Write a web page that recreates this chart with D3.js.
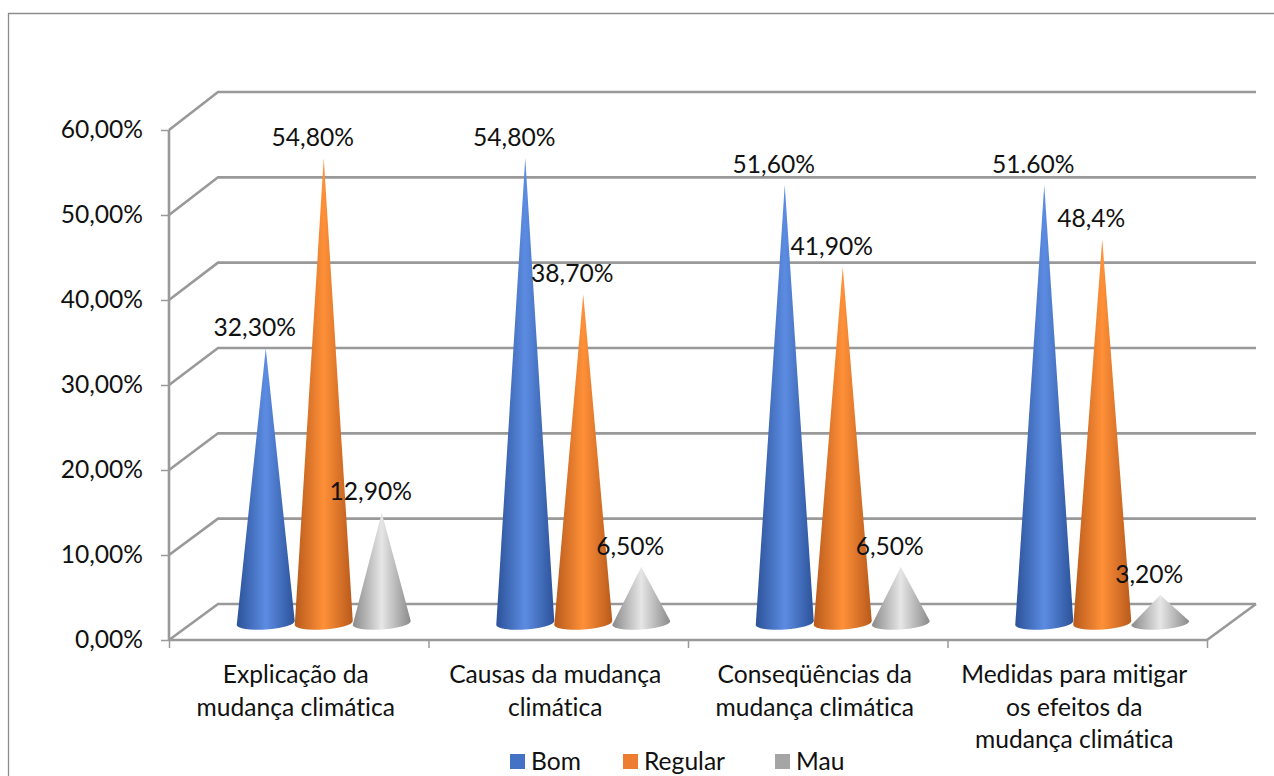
<!DOCTYPE html>
<html><head><meta charset="utf-8">
<script src="https://cdn.jsdelivr.net/npm/d3@7"></script>
<style>html,body{margin:0;padding:0;background:#fff;overflow:hidden}svg{display:block}text{font-family:Lato,"Open Sans",sans-serif;fill:#111;font-variant-ligatures:none}</style>
</head><body><script>
const categories=[["Explicação da","mudança climática"],["Causas da mudança","climática"],["Conseqüências da","mudança climática"],["Medidas para mitigar","os efeitos da","mudança climática"]];
const seriesNames=["Bom","Regular","Mau"];
const bom=[32.3,54.8,51.6,51.6];
const regular=[54.8,38.7,41.9,45.2];
const mau=[12.9,6.5,6.5,3.2];
const bomLabels=["32,30%","54,80%","51,60%","51.60%"];
const regularLabels=["54,80%","38,70%","41,90%","48,4%"];
const mauLabels=["12,90%","6,50%","6,50%","3,20%"];
const yTicks=[0,10,20,30,40,50,60];
const colors=["#4472c4","#ed7d31","#a5a5a5"];
const grads=[["#2c5299","#5c8ce2"],["#b85a1c","#ff9038"],["#8a8a8a","#e6e6e6"]];

const W=1274,H=776,dx=49,grid="#999",fs=24.6;
const svg=d3.select("body").append("svg").attr("width",W).attr("height",H);
svg.append("path").attr("d",`M8.5,${H}V13.5H${W}`).attr("fill","none").attr("stroke","#8c8c8c").attr("stroke-width",1.3);

const y=d3.scaleLinear().domain([0,60]).range([640,130]);
const yBack=d3.scaleLinear().domain([0,60]).range([604,92]);
const yCone=d3.scaleLinear().domain([0,60]).range([622,114]);
const x=d3.scaleBand().domain(d3.range(categories.length)).range([169,1207]);
const inner=d3.scaleBand().domain(d3.range(3)).range([0,174]);
const cx=(c,s)=>x(c)+x.bandwidth()/2-33+inner(s);

const defs=svg.append("defs");
grads.forEach((g,i)=>{
  const lg=defs.append("linearGradient").attr("id","g"+i);
  [[0,g[0]],[.5,g[1]],[1,g[0]]].forEach(([o,c])=>lg.append("stop").attr("offset",o).attr("stop-color",c));
});

// walls and floor
const wall=svg.append("g").attr("fill","none").attr("stroke",grid).attr("stroke-width",2.6);
yTicks.forEach(t=>{
  wall.append("path").attr("d",`M${x.range()[0]},${y(t)}L${x.range()[0]+dx},${yBack(t)}L${x.range()[1]+dx},${yBack(t)}`);
});
wall.append("path").attr("d",`M${x.range()[1]},${y(0)}L${x.range()[1]+dx},${yBack(0)}`);

// axes
const axL=svg.append("g").attr("transform",`translate(${x.range()[0]},0)`)
  .call(d3.axisLeft(y).tickValues(yTicks).tickSize(8).tickPadding(18).tickFormat(d=>d3.format(".2f")(d).replace(".",",")+"%"));
axL.selectAll("line").attr("stroke",grid).attr("stroke-width",1.5);
axL.select(".domain").attr("stroke",grid).attr("stroke-width",2.6).attr("d",`M0,${y(60)}V${y(0)}`);
axL.selectAll("text").attr("font-size",fs).style("font-family",'Lato,sans-serif').attr("fill","#111");

const axB=svg.append("g").attr("transform",`translate(0,${y(0)})`)
  .call(d3.axisBottom(d3.scaleLinear().domain([0,4]).range(x.range())).tickValues([0,1,2,3,4]).tickSize(8).tickFormat(""));
axB.selectAll("line").attr("stroke",grid).attr("stroke-width",1.5);
axB.select(".domain").attr("stroke",grid).attr("stroke-width",2.6).attr("d",`M${x.range()[0]},0H${x.range()[1]}`);

// cones
const series=[bom,regular,mau];
const labels=[bomLabels,regularLabels,mauLabels];
const hw=inner.bandwidth()/2;
series.forEach((vals,s)=>{
  svg.append("g").selectAll("path").data(vals).join("path")
    .attr("fill",`url(#g${s})`)
    .attr("d",(v,c)=>{
      const m=cx(c,s),b=yCone(0),t=yCone(v);
      return `M${m-hw},${b+3}L${m},${t}L${m+hw},${b-1}A${hw},6.5 -4 0 1 ${m-hw},${b+3}Z`;
    });
});
// data labels
series.forEach((vals,s)=>{
  svg.append("g").selectAll("text").data(vals).join("text")
    .attr("x",(v,c)=>cx(c,s)-11).attr("y",v=>yCone(v)-21).attr("dy","0.35em")
    .attr("text-anchor","middle").attr("font-size",fs).text((v,c)=>labels[s][c]);
});
// category labels
const cat=svg.append("g").selectAll("text").data(categories).join("text")
  .attr("text-anchor","middle").attr("font-size",fs);
cat.each(function(lines,i){
  const g=d3.select(this);
  lines.forEach((l,j)=>g.append("tspan").attr("x",x(i)+x.bandwidth()/2-3).attr("y",683+j*32.7).text(l));
});
// legend
const legX=[510,623,775];
const leg=svg.append("g").selectAll("g").data(seriesNames).join("g")
  .attr("transform",(d,i)=>`translate(${legX[i]},754)`);
leg.append("rect").attr("width",15).attr("height",15).attr("fill",(d,i)=>colors[i]);
leg.append("text").attr("x",21).attr("y",16).attr("font-size",fs).text(d=>d);
</script></body></html>
